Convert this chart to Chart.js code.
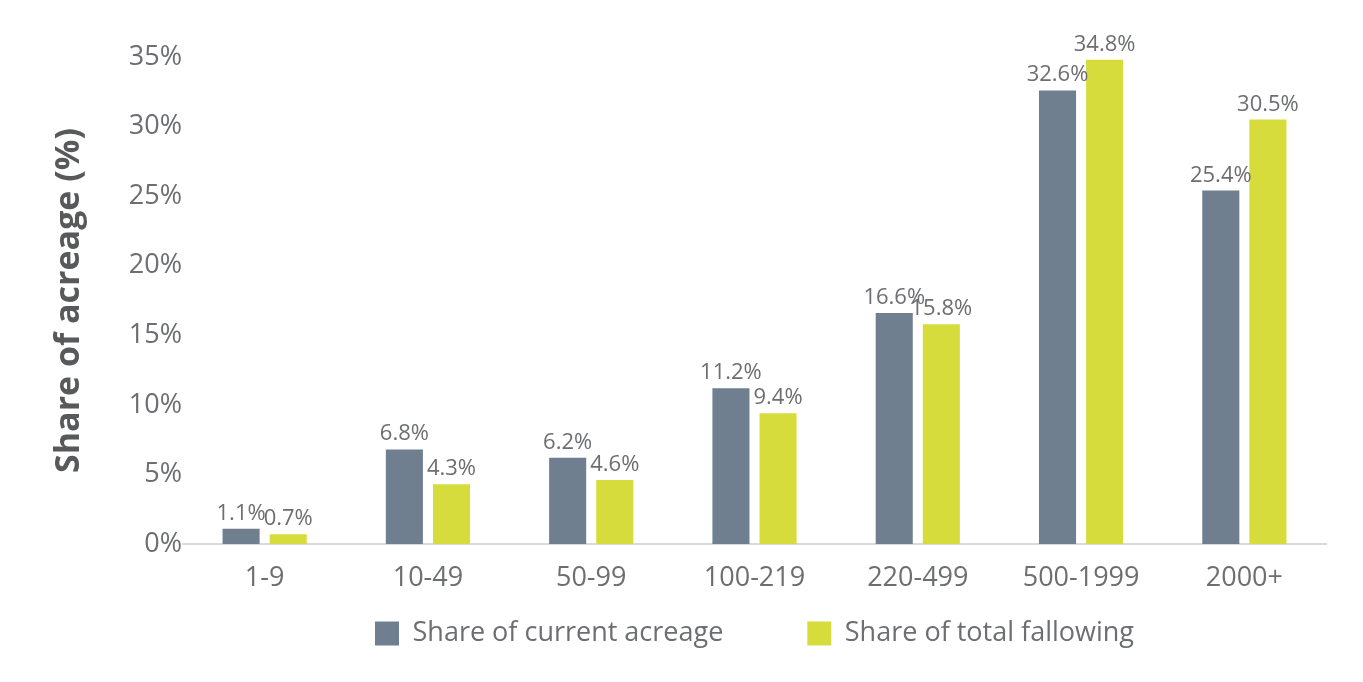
<!DOCTYPE html>
<html><head><meta charset="utf-8">
<script src="https://cdn.jsdelivr.net/npm/chart.js@4/dist/chart.umd.min.js"></script>
<style>html,body{margin:0;padding:0;background:#fff;}#wrap{width:1363px;height:682px;}</style>
</head><body><div id="wrap"><canvas id="c"></canvas></div>
<script>
const categories = ["1-9","10-49","50-99","100-219","220-499","500-1999","2000+"];
const currentAcreage = [1.1,6.8,6.2,11.2,16.6,32.6,25.4];
const totalFallowing = [0.7,4.3,4.6,9.4,15.8,34.8,30.5];
const yTicks = [0,5,10,15,20,25,30,35];
const seriesNames = ["Share of current acreage","Share of total fallowing"];

const FONT = "'Open Sans', Lato, sans-serif";
const TXT = "#6d6e71";

const labelPlugin = {
  id: 'barLabels',
  afterDatasetsDraw(chart) {
    const ctx = chart.ctx;
    ctx.save();
    ctx.fillStyle = TXT;
    ctx.font = "22px " + FONT;
    ctx.textAlign = "center";
    ctx.textBaseline = "alphabetic";
    chart.data.datasets.forEach((ds, i) => {
      const meta = chart.getDatasetMeta(i);
      meta.data.forEach((bar, j) => {
        ctx.fillText(ds.data[j].toFixed(1) + "%", bar.x, bar.y - 9);
      });
    });
    ctx.restore();
  }
};

new Chart(document.getElementById('c'), {
  type: 'bar',
  data: {
    labels: categories,
    datasets: [
      {label: seriesNames[0], data: currentAcreage, backgroundColor: "#6f7f8f", barPercentage: 0.787, categoryPercentage: 0.577},
      {label: seriesNames[1], data: totalFallowing, backgroundColor: "#d6dc3c", barPercentage: 0.787, categoryPercentage: 0.577}
    ]
  },
  options: {
    responsive: true,
    maintainAspectRatio: false,
    animation: false,
    layout: {padding: {top: 57, right: 37, bottom: 25, left: 0}},
    plugins: {
      legend: {
        position: 'bottom',
        fullSize: false,
        labels: {
          boxWidth: 24, boxHeight: 24, padding: 30,
          color: TXT,
          font: {family: FONT, size: 27},
          generateLabels(chart) {
            const items = Chart.defaults.plugins.legend.labels.generateLabels(chart);
            items.forEach((it, i) => { if (i < items.length - 1) it.text = it.text + "\u2003\u2003"; });
            return items;
          }
        }
      },
      tooltip: {enabled: false}
    },
    scales: {
      x: {
        afterFit(scale) { scale.height = 46; },
        grid: {display: false, drawTicks: false},
        border: {display: true, color: "#d9d9d9", width: 2},
        ticks: {color: TXT, font: {family: FONT, size: 27}, padding: 18}
      },
      y: {
        min: 0, max: 35,
        afterBuildTicks(scale) { scale.ticks = yTicks.map(v => ({value: v})); },
        afterFit(scale) { scale.width = 183; },
        grid: {display: false, drawTicks: false},
        border: {display: false},
        ticks: {color: TXT, font: {family: FONT, size: 27}, padding: 1,
                callback: v => v + "%"},
        title: {display: true, text: "Share of acreage (%)", color: "#58595b",
                font: {family: FONT, size: 34, weight: 'bold'}, padding: {top: 49, bottom: 0}}
      }
    }
  },
  plugins: [labelPlugin]
});
</script>
</body></html>
